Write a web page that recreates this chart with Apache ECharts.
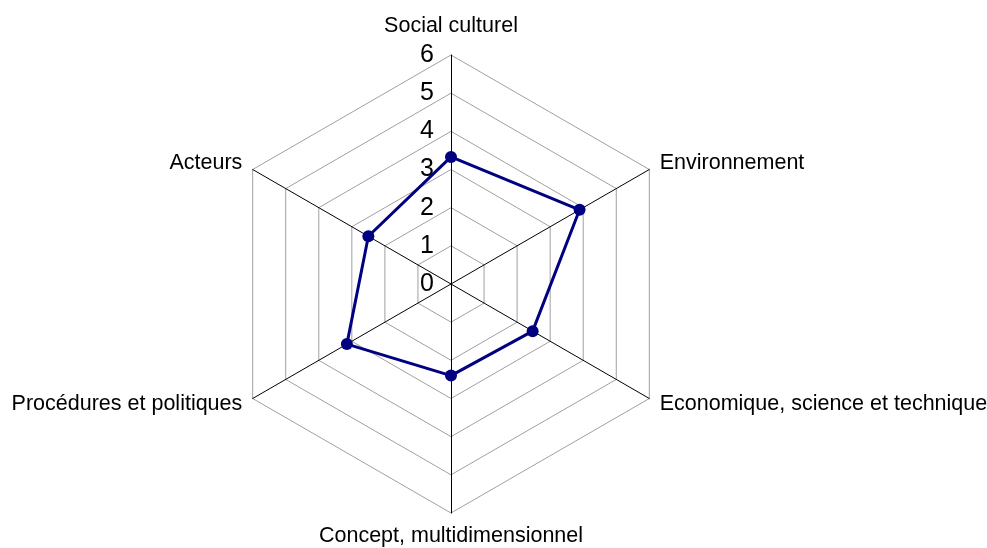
<!DOCTYPE html>
<html>
<head>
<meta charset="utf-8">
<script src="https://cdn.jsdelivr.net/npm/echarts@6/dist/echarts.min.js"></script>
<style>
  html, body { margin: 0; padding: 0; background: #fff; }
  #chart { width: 987px; height: 548px; }
</style>
</head>
<body>
<div id="chart"></div>
<script>
// ordered counter-clockwise from the top, as ECharts places radar axes
const categories = [
  'Social culturel',
  'Acteurs',
  'Procédures et politiques',
  'Concept, multidimensionnel',
  'Economique, science et technique',
  'Environnement'
];
const values = [3.33, 2.5, 3.15, 2.4, 2.47, 3.89];
const tickLabels = ['0', '1', '2', '3', '4', '5', '6'];
const maxValue = 6;

const center = [451, 284];
const radius = 229;

const chart = echarts.init(document.getElementById('chart'));

chart.setOption({
  animation: false,
  textStyle: { fontFamily: 'Liberation Sans, Arial, sans-serif' },
  radar: {
    center: center,
    radius: radius,
    startAngle: 90,
    shape: 'polygon',
    splitNumber: 6,
    indicator: categories.map(name => ({ name, min: 0, max: maxValue })),
    axisName: {
      color: '#000',
      fontSize: 21.5,
      formatter: (name) => name === categories[0] ? '{top|' + name + '}' : name,
      rich: {
        top: { fontSize: 21.5, color: '#000', padding: [0, 0, 6, 0] }
      }
    },
    nameGap: 12,
    axisLine: { lineStyle: { color: '#000', width: 1 } },
    splitLine: { lineStyle: { color: '#a0a0a0', width: 1 } },
    splitArea: { show: false }
  },
  // hidden value axis used only to print the 0..6 scale along the top spoke
  grid: { left: center[0], top: center[1] - radius, width: 1, height: radius },
  xAxis: { type: 'value', show: false },
  yAxis: {
    type: 'value',
    min: 0,
    max: maxValue,
    interval: 1,
    axisLine: { show: false },
    axisTick: { show: false },
    splitLine: { show: false },
    axisLabel: {
      margin: 17,
      fontSize: 25,
      color: '#000',
      formatter: v => tickLabels[v]
    }
  },
  series: [{
    type: 'radar',
    symbol: 'circle',
    symbolSize: 12,
    lineStyle: { color: '#000080', width: 3 },
    itemStyle: { color: '#000080' },
    data: [{ value: values }]
  }]
});
</script>
</body>
</html>
